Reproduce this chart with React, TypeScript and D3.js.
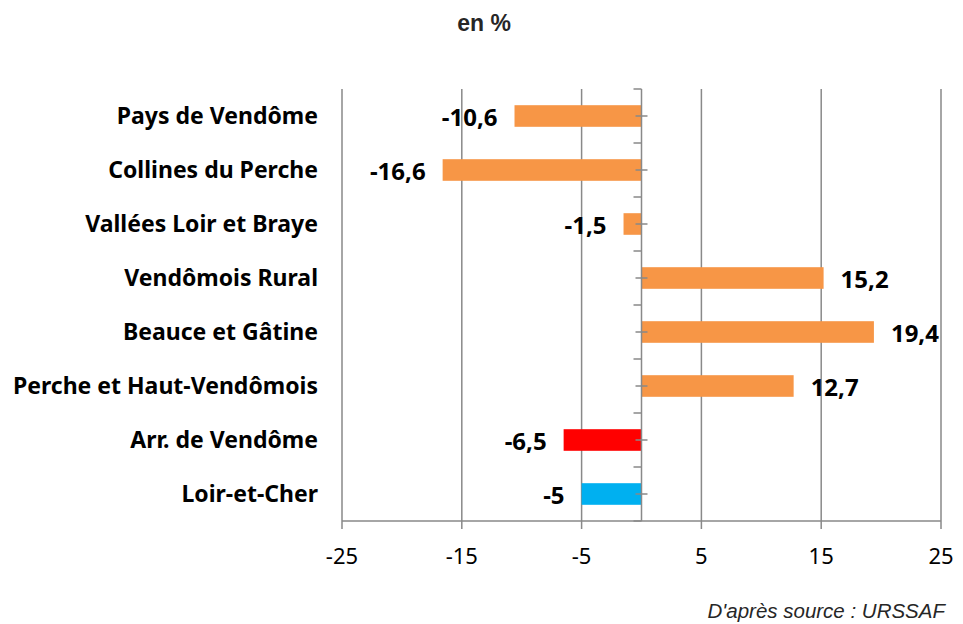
import { useRef, useEffect } from 'react';
import * as d3 from 'd3';

const categories = [
  'Pays de Vendôme',
  'Collines du Perche',
  'Vallées Loir et Braye',
  'Vendômois Rural',
  'Beauce et Gâtine',
  'Perche et Haut-Vendômois',
  'Arr. de Vendôme',
  'Loir-et-Cher',
];
const values = [-10.6, -16.6, -1.5, 15.2, 19.4, 12.7, -6.5, -5];
const barColors = ['#F79646', '#F79646', '#F79646', '#F79646', '#F79646', '#F79646', '#FF0000', '#00B0F0'];
const xTicks = [-25, -15, -5, 5, 15, 25];

const App = () => {
  const svgRef = useRef<SVGSVGElement>(null);

  useEffect(() => {
    const width = 963;
    const height = 624;
    const top = 89;
    const bottom = 521;
    const left = 342;
    const right = 941;
    const grey = '#898989';
    const labelFont = '"Noto Sans", sans-serif';

    const svg = d3.select(svgRef.current);
    svg.selectAll('*').remove();
    svg.attr('viewBox', `0 0 ${width} ${height}`);

    const x = d3.scaleLinear().domain([-25, 25]).range([left, right]);
    const y = d3.scaleBand<string>()
      .domain(categories)
      .range([top, bottom])
      .paddingInner(0.6)
      .paddingOuter(0.3);
    const step = y.step();

    // vertical gridlines + bottom ticks
    svg.append('g')
      .selectAll('line')
      .data(xTicks)
      .enter()
      .append('line')
      .attr('x1', d => x(d))
      .attr('x2', d => x(d))
      .attr('y1', top)
      .attr('y2', bottom + 8)
      .attr('stroke', grey)
      .attr('stroke-width', 1.5);

    // bottom axis line
    svg.append('line')
      .attr('x1', left)
      .attr('x2', right)
      .attr('y1', bottom)
      .attr('y2', bottom)
      .attr('stroke', grey)
      .attr('stroke-width', 1.5);

    svg.append('g')
      .selectAll('text')
      .data(xTicks)
      .enter()
      .append('text')
      .attr('x', d => x(d))
      .attr('y', 564)
      .attr('text-anchor', 'middle')
      .style('font-family', labelFont)
      .style('font-size', '22px')
      .attr('fill', '#000')
      .text(d => d);

    // bars
    svg.append('g')
      .selectAll('rect')
      .data(values)
      .enter()
      .append('rect')
      .attr('x', d => x(Math.min(0, d)))
      .attr('y', (d, i) => y(categories[i]))
      .attr('width', d => Math.abs(x(d) - x(0)))
      .attr('height', y.bandwidth())
      .attr('fill', (d, i) => barColors[i]);

    // category axis at zero
    const x0 = x(0);
    svg.append('line')
      .attr('x1', x0)
      .attr('x2', x0)
      .attr('y1', top)
      .attr('y2', bottom)
      .attr('stroke', grey)
      .attr('stroke-width', 1.5);

    const bounds = d3.range(categories.length + 1).map(i => top + i * step);
    svg.append('g')
      .selectAll('line')
      .data(bounds)
      .enter()
      .append('line')
      .attr('x1', x0 - 8)
      .attr('x2', x0)
      .attr('y1', d => d)
      .attr('y2', d => d)
      .attr('stroke', grey)
      .attr('stroke-width', 1.5);

    svg.append('g')
      .selectAll('line')
      .data(categories)
      .enter()
      .append('line')
      .attr('x1', x0 - 6)
      .attr('x2', x0 + 6)
      .attr('y1', d => y(d) + y.bandwidth() / 2)
      .attr('y2', d => y(d) + y.bandwidth() / 2)
      .attr('stroke', grey)
      .attr('stroke-width', 1.5);

    // value labels
    svg.append('g')
      .selectAll('text')
      .data(values)
      .enter()
      .append('text')
      .attr('x', d => d < 0 ? x(d) - 17 : x(d) + 17)
      .attr('y', (d, i) => y(categories[i]) + y.bandwidth() / 2)
      .attr('dy', '0.42em')
      .attr('text-anchor', d => d < 0 ? 'end' : 'start')
      .style('font-family', labelFont)
      .style('font-size', '24px')
      .style('font-weight', '700')
      .attr('fill', '#000')
      .text(d => String(d).replace('.', ','));

    // category labels
    svg.append('g')
      .selectAll('text')
      .data(categories)
      .enter()
      .append('text')
      .attr('x', 318)
      .attr('y', d => y(d) + y.bandwidth() / 2)
      .attr('dy', '0.36em')
      .attr('text-anchor', 'end')
      .style('font-family', labelFont)
      .style('font-size', '23px')
      .style('font-weight', '700')
      .attr('fill', '#000')
      .text(d => d);

    svg.append('text')
      .attr('x', 484)
      .attr('y', 31)
      .attr('text-anchor', 'middle')
      .style('font-family', '"Liberation Sans", Arial, sans-serif')
      .style('font-size', '23px')
      .style('font-weight', '700')
      .attr('fill', '#262626')
      .text('en %');

    svg.append('text')
      .attr('x', 945)
      .attr('y', 618)
      .attr('text-anchor', 'end')
      .style('font-family', '"Liberation Sans", Arial, sans-serif')
      .style('font-size', '20.5px')
      .style('font-style', 'italic')
      .attr('fill', '#262626')
      .text("D'après source : URSSAF");
  }, []);

  return (
    <svg
      ref={svgRef}
      width={963}
      height={624}
      style={{ position: 'absolute', left: 0, top: 0, background: '#fff' }}
    />
  );
};

export default App;
